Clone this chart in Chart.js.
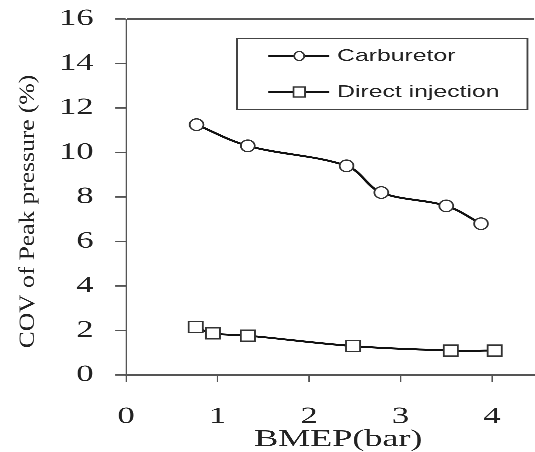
<!DOCTYPE html>
<html>
<head>
<meta charset="utf-8">
<script src="https://cdn.jsdelivr.net/npm/chart.js@4/dist/chart.umd.min.js"></script>
<style>
  html, body { margin: 0; padding: 0; background: #fff; }
  /* the reference is stretched sideways, so the canvas is drawn narrow and scaled */
  #wrap { position: absolute; left: 0; top: 0; width: 356.67px; height: 452px;
          transform: scaleX(1.5); transform-origin: 0 0; }
</style>
</head>
<body>
<div id="wrap"><canvas id="chart"></canvas></div>
<script>
// ─── Data ──────────────────────────────────────────
const X_TICKS = [0, 1, 2, 3, 4];
const Y_TICKS = [0, 2, 4, 6, 8, 10, 12, 14, 16];

const CARB_BMEP = [0.77, 1.33, 2.41, 2.79, 3.50, 3.88];
const CARB_COV  = [11.25, 10.3, 9.4, 8.2, 7.6, 6.8];

const DI_BMEP = [0.76, 0.95, 1.33, 2.48, 3.55, 4.03];
const DI_COV  = [2.15, 1.87, 1.77, 1.3, 1.1, 1.1];

const SERIES_NAMES = ['Carburetor', 'Direct injection'];

const SERIF = 'Liberation Serif';
const SANS = 'Liberation Sans';
const AXIS_COL = '#555';
const MARK_COL = '#333';

const toPoints = (xs, ys) => xs.map((x, i) => ({ x: x, y: ys[i] }));

// markers are drawn narrower than tall so they come out round-ish after the stretch
function drawMarker(ctx, style, x, y, rx, ry) {
  ctx.beginPath();
  if (style === 'rect') ctx.rect(x - rx, y - ry, rx * 2, ry * 2);
  else ctx.ellipse(x, y, rx, ry, 0, 0, Math.PI * 2);
  ctx.fillStyle = '#fff';
  ctx.fill();
  ctx.strokeStyle = MARK_COL;
  ctx.lineWidth = 1.2;
  ctx.stroke();
}

// ─── Markers (positions come from the chart's own point elements) ──
const markers = {
  id: 'markers',
  afterDatasetsDraw(chart) {
    const ctx = chart.ctx;
    ctx.save();
    chart.data.datasets.forEach((ds, i) => {
      const rect = ds.pointStyle === 'rect';
      chart.getDatasetMeta(i).data.forEach(pt => {
        drawMarker(ctx, ds.pointStyle, pt.x, pt.y, rect ? 4.7 : 4.6, rect ? 5.5 : 5.8);
      });
    });
    ctx.restore();
  }
};

// ─── Legend box (drawn by hand, sits inside the plot) ──
const legendBox = {
  id: 'legendBox',
  afterDraw(chart) {
    const ctx = chart.ctx;
    ctx.save();
    ctx.strokeStyle = '#444';
    ctx.lineWidth = 1.2;
    ctx.strokeRect(157.8, 38.5, 193.5, 71);
    const rows = [56, 92];
    chart.data.datasets.forEach((ds, i) => {
      const y = rows[i];
      ctx.strokeStyle = '#111';
      ctx.lineWidth = 2;
      ctx.beginPath();
      ctx.moveTo(178.7, y); ctx.lineTo(219.3, y);
      ctx.stroke();
      if (ds.pointStyle === 'rect') drawMarker(ctx, 'rect', 199.3, y, 3.8, 5);
      else drawMarker(ctx, 'circle', 199.3, y, 3.3, 4.5);
      ctx.fillStyle = '#222';
      ctx.font = '16.5px "' + SANS + '"';
      ctx.textBaseline = 'middle';
      ctx.textAlign = 'left';
      ctx.fillText(SERIES_NAMES[i], 224.5, y + 0.5);
    });
    ctx.restore();
  }
};

// ─── Axis titles ───────────────────────────────────
const axisTitles = {
  id: 'axisTitles',
  afterDraw(chart) {
    const ctx = chart.ctx;
    ctx.save();
    ctx.fillStyle = '#222';
    ctx.font = '24px "' + SERIF + '"';
    ctx.textAlign = 'center';
    ctx.textBaseline = 'alphabetic';
    ctx.fillText('BMEP(bar)', 225.3, 446);

    ctx.translate(22.7, 211.5);
    ctx.rotate(-Math.PI / 2);
    ctx.scale(1, 0.59);
    ctx.font = '25.5px "' + SERIF + '"';
    ctx.fillText('COV of Peak pressure (%)', 0, 0);
    ctx.restore();
  }
};

// no label overhang padding, the plot edges are placed by layout.padding
const noOverhang = s => {
  s.paddingTop = 0; s.paddingBottom = 0; s.paddingLeft = 0; s.paddingRight = 0;
};

// ─── Chart ─────────────────────────────────────────
new Chart(document.getElementById('chart'), {
  type: 'scatter',
  data: {
    datasets: [
      {
        label: SERIES_NAMES[0],
        data: toPoints(CARB_BMEP, CARB_COV),
        showLine: true, tension: 0.35,
        borderColor: '#111', borderWidth: 2,
        pointStyle: 'circle', pointRadius: 0, pointHoverRadius: 0
      },
      {
        label: SERIES_NAMES[1],
        data: toPoints(DI_BMEP, DI_COV),
        showLine: true, tension: 0.35,
        borderColor: '#111', borderWidth: 2,
        pointStyle: 'rect', pointRadius: 0, pointHoverRadius: 0
      }
    ]
  },
  options: {
    responsive: true, maintainAspectRatio: false, animation: false,
    devicePixelRatio: 3,
    layout: { padding: { top: 19, left: 0, right: 0, bottom: 0 } },
    plugins: { legend: { display: false }, tooltip: { enabled: false } },
    scales: {
      x: {
        type: 'linear', min: 0, max: 4.46,
        afterBuildTicks: s => { s.ticks = X_TICKS.map(v => ({ value: v })); },
        afterFit: s => { s.height = 77; noOverhang(s); },
        grid: { drawOnChartArea: false, tickLength: 7, tickColor: AXIS_COL, tickWidth: 1 },
        border: { color: AXIS_COL, width: 1.5 },
        ticks: { font: { family: SERIF, size: 23 }, color: '#222', padding: 21, maxRotation: 0 }
      },
      y: {
        min: 0, max: 16,
        afterBuildTicks: s => { s.ticks = Y_TICKS.map(v => ({ value: v })); },
        afterFit: s => { s.width = 84; noOverhang(s); },
        grid: {
          color: c => (c.tick && c.tick.value === 16) ? AXIS_COL : 'rgba(0,0,0,0)',
          tickColor: AXIS_COL, tickLength: 7.3, lineWidth: 1.3
        },
        border: { color: AXIS_COL, width: 1 },
        ticks: { font: { family: SERIF, size: 23 }, color: '#222', padding: 14.4 }
      }
    }
  },
  plugins: [markers, legendBox, axisTitles]
});
</script>
</body>
</html>
